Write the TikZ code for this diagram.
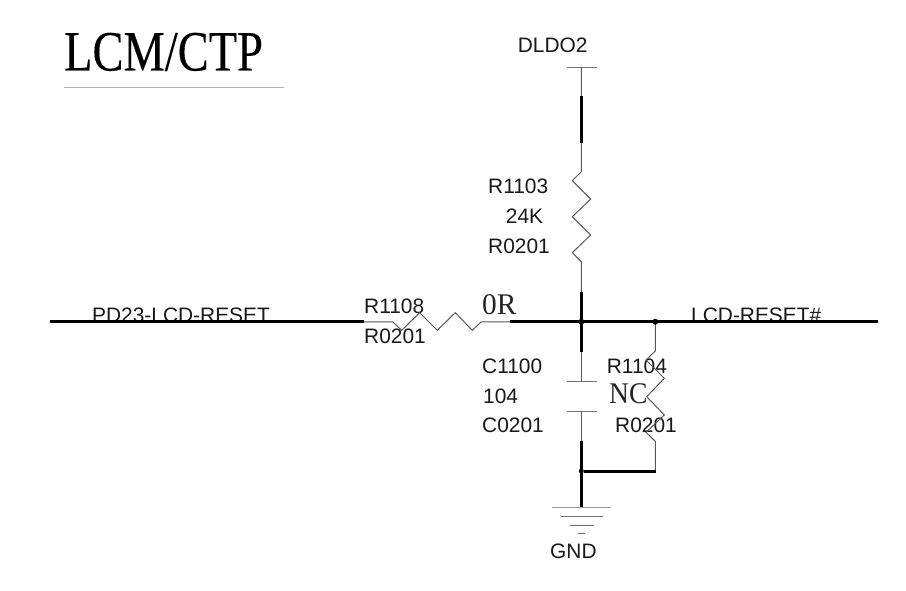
\documentclass[tikz,border=0pt]{standalone}
\usepackage{fontspec}
\setmainfont{Liberation Sans}
\newfontfamily\serifcond{Liberation Serif}
\newfontfamily\serifheavy[FakeBold=0.25]{Liberation Serif}
\begin{document}
\begin{tikzpicture}[x=1pt,y=-1pt,
  lbl/.style={anchor=base west,inner sep=0pt,yshift=-1.2pt,font=\fontsize{20.9}{21}\selectfont,text=black!90},
  serlbl/.style={anchor=base west,inner sep=0pt,yshift=-1pt,font=\serifcond\fontsize{30}{30}\selectfont,text=black!85},
  thin wire/.style={draw=black!65,line width=1pt},
  bus/.style={draw=black,line width=3pt},
  plate/.style={draw=black!55,line width=1pt},
  junction/.style={circle,fill=black,inner sep=0pt,minimum size=6pt}]
\useasboundingbox[fill=white] (0,0) rectangle (906,591);
% title
\node[anchor=base west,inner sep=0pt,font=\serifheavy\fontsize{57}{57}\selectfont,xscale=0.815] (title) at (64,70.5) {LCM/CTP};
\coordinate (ulA) at (64,87.5); \coordinate (ulB) at (284,87.5);
\draw[draw=black!30,line width=1pt] (ulA) -- (ulB);
% labels
\node[lbl] (dldo) at (517.7,51.7) {DLDO2};
\node[lbl] (r1103) at (488,192) {R1103};
\node[lbl] (v24k) at (505.7,222) {24K};
\node[lbl] (r1103p) at (488,252.7) {R0201};
\node[lbl] (pd23) at (92,321.5) {PD23-LCD-RESET};
\node[lbl] (lcdr) at (691,321.5) {LCD-RESET\#};
\node[lbl] (r1108) at (364,312.7) {R1108};
\node[lbl] (r1108p) at (364,342.7) {R0201};
\node[serlbl,xscale=0.98] (zr) at (482,313.5) {0R};
\node[lbl] (c1100) at (482,372) {C1100};
\node[lbl] (v104) at (483,402) {104};
\node[lbl] (c1100p) at (482,431.7) {C0201};
\node[lbl] (r1104) at (606.7,372) {R1104};
\node[serlbl,xscale=0.92] (nc) at (609,402.5) {NC};
\node[lbl] (r1104p) at (615,431.7) {R0201};
\node[lbl] (gnd) at (550,557) {GND};
% coordinates
\coordinate (in) at (50,321.8);
\coordinate (out) at (878,321.8);
\coordinate (r8a) at (364,321.8);
\coordinate (r8b) at (392.7,321.8);
\coordinate (r8c) at (481.3,321.8);
\coordinate (r8d) at (510,321.8);
\coordinate (top) at (581.3,67.3);
\coordinate (vdA) at (581.3,96.5);
\coordinate (vdB) at (581.3,143);
\coordinate (r3a) at (581.3,171.7);
\coordinate (r3b) at (581.3,261.7);
\coordinate (vmA) at (581.3,292);
\coordinate (vmB) at (581.3,351.7);
\coordinate (capT) at (581.3,381);
\coordinate (capB) at (581.3,411.3);
\coordinate (vlA) at (581.3,440.7);
\coordinate (gtop) at (581.3,507.5);
\coordinate (r4t) at (655.3,351);
\coordinate (r4b) at (655.3,441.3);
% supply bar
\draw[plate] (567,67.3) -- (597,67.3);
% R1103
\draw[thin wire,line join=miter] (top) -- (vdA) (vdB) -- (r3a) -- (572.3,180.7) -- (590.7,199) -- (572.3,216.7) -- (590.7,235) -- (572.3,252.7) -- (r3b) -- (vmA);
\draw[bus] (vdA) -- (vdB);
% R1108
\draw[thin wire] (r8a) -- (r8b) -- (401.7,330.3) -- (419.7,312.7) -- (437.3,330.3) -- (455.3,312.7) -- (472.3,330.3) -- (r8c) -- (r8d);
% main wires
\draw[bus] (in) -- (r8a);
\draw[bus] (r8d) -- (out);
\draw[bus] (vmA) -- (vmB);
% capacitor
\draw[thin wire] (vmB) -- (capT) (capB) -- (vlA);
\draw[plate] (567,381) -- (597,381);
\draw[plate] (567,411.3) -- (597,411.3);
% R1104
\node[junction] (j1) at (581.3,321.8) {};
\node[junction] (j2) at (655.3,321.8) {};
\node[junction,minimum size=5pt] (j3) at (581.3,471) {};
\draw[thin wire] (j2) -- (r4t) -- (646,360) -- (664.3,378.3) -- (646.7,396.7) -- (664.3,415) -- (646,432.3) -- (r4b) -- (655.3,471);
\draw[bus] (vlA) -- (gtop);
\draw[bus] (j3) -- (656.3,471);
% ground
\draw[draw=black!40,line width=1pt] (552,507.3) -- (611,507.3);
\draw[draw=black!55,line width=1pt] (561,516.3) -- (603,516.3);
\draw[draw=black!55,line width=1pt] (570,525.5) -- (594,525.5);
\draw[draw=black!55,line width=1pt] (578,533) -- (585,533);
\end{tikzpicture}
\end{document}
